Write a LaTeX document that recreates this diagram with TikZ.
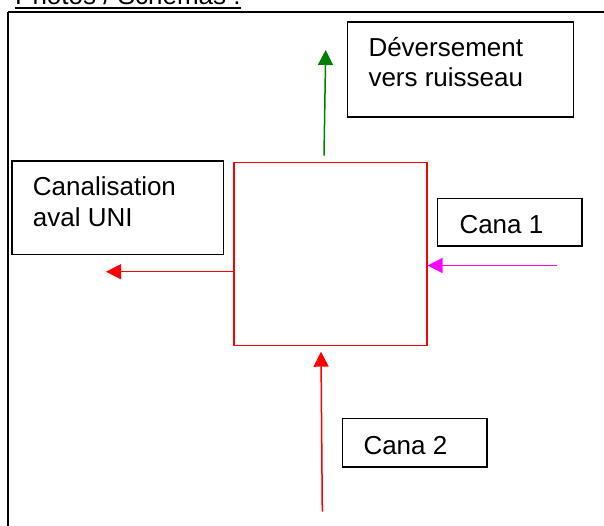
\documentclass[tikz,border=0pt]{standalone}
\usepackage{fontspec}
\setmainfont{Liberation Sans}
\usetikzlibrary{arrows.meta}
\definecolor{arrgreen}{RGB}{0,128,0}
\definecolor{arrmag}{RGB}{255,0,255}
\definecolor{arrred}{RGB}{255,0,0}
\begin{document}
\begin{tikzpicture}[x=1pt,y=-1pt,
  txt/.style={inner sep=0pt, anchor=base west, font=\fontsize{26}{30}\selectfont},
  blackbox/.style={draw=black, line width=1.6pt, inner sep=0pt},
  flow/.style={line width=1.5pt, -{Triangle[length=15pt,width=15pt]}}]
\useasboundingbox (0,0) rectangle (604,525);
% outer frame
\draw[line width=2pt] (8,11.5) -- (620,11.5);
\draw[line width=2pt] (8,11.5) -- (8,540);
% title
\node[txt] (title) at (15,4) {Photos / Schémas :};
\draw[line width=1.3pt] ([yshift=-4pt]title.base west) -- ([yshift=-4pt]title.base east);
% boxes
\node[blackbox, minimum width=226pt, minimum height=95pt] (dev) at (460.3,69.2) {};
\node[txt] (devtxt) at (368.3,56.7) {Déversement};
\node[txt] (devtxt2) at (368.3,86.7) {vers ruisseau};
\node[blackbox, minimum width=211.6pt, minimum height=93.6pt] (can) at (117.5,207.5) {};
\node[txt] (cantxt) at (32.7,195.7) {Canalisation};
\node[txt] (cantxt2) at (32.7,226.7) {aval UNI};
\node[blackbox, minimum width=144.4pt, minimum height=47.4pt] (c1) at (509.5,222) {};
\node[txt] (c1txt) at (459.3,233) {Cana 1};
\node[blackbox, minimum width=144.3pt, minimum height=48.4pt] (c2) at (414.8,442.5) {};
\node[txt] (c2txt) at (363.3,454.3) {Cana 2};
% red square
\node[draw=arrred, line width=1.5pt, inner sep=0pt, minimum width=192.6pt, minimum height=183pt] (sq) at (330.5,254.2) {};
% arrows
\coordinate (gtail) at (324,155.7);
\coordinate (gtip) at (325.7,50);
\draw[flow, arrgreen] (gtail) -- (gtip);
\coordinate (ltip) at (106,271.7);
\draw[flow, arrred] (sq.west |- ltip) -- (ltip);
\coordinate (mtail) at (556.7,265.5);
\draw[flow, arrmag] (mtail) -- (sq.east |- mtail);
\coordinate (utail) at (322.3,511.7);
\coordinate (utip) at (321,351.7);
\draw[flow, arrred] (utail) -- (utip);
\end{tikzpicture}
\end{document}
